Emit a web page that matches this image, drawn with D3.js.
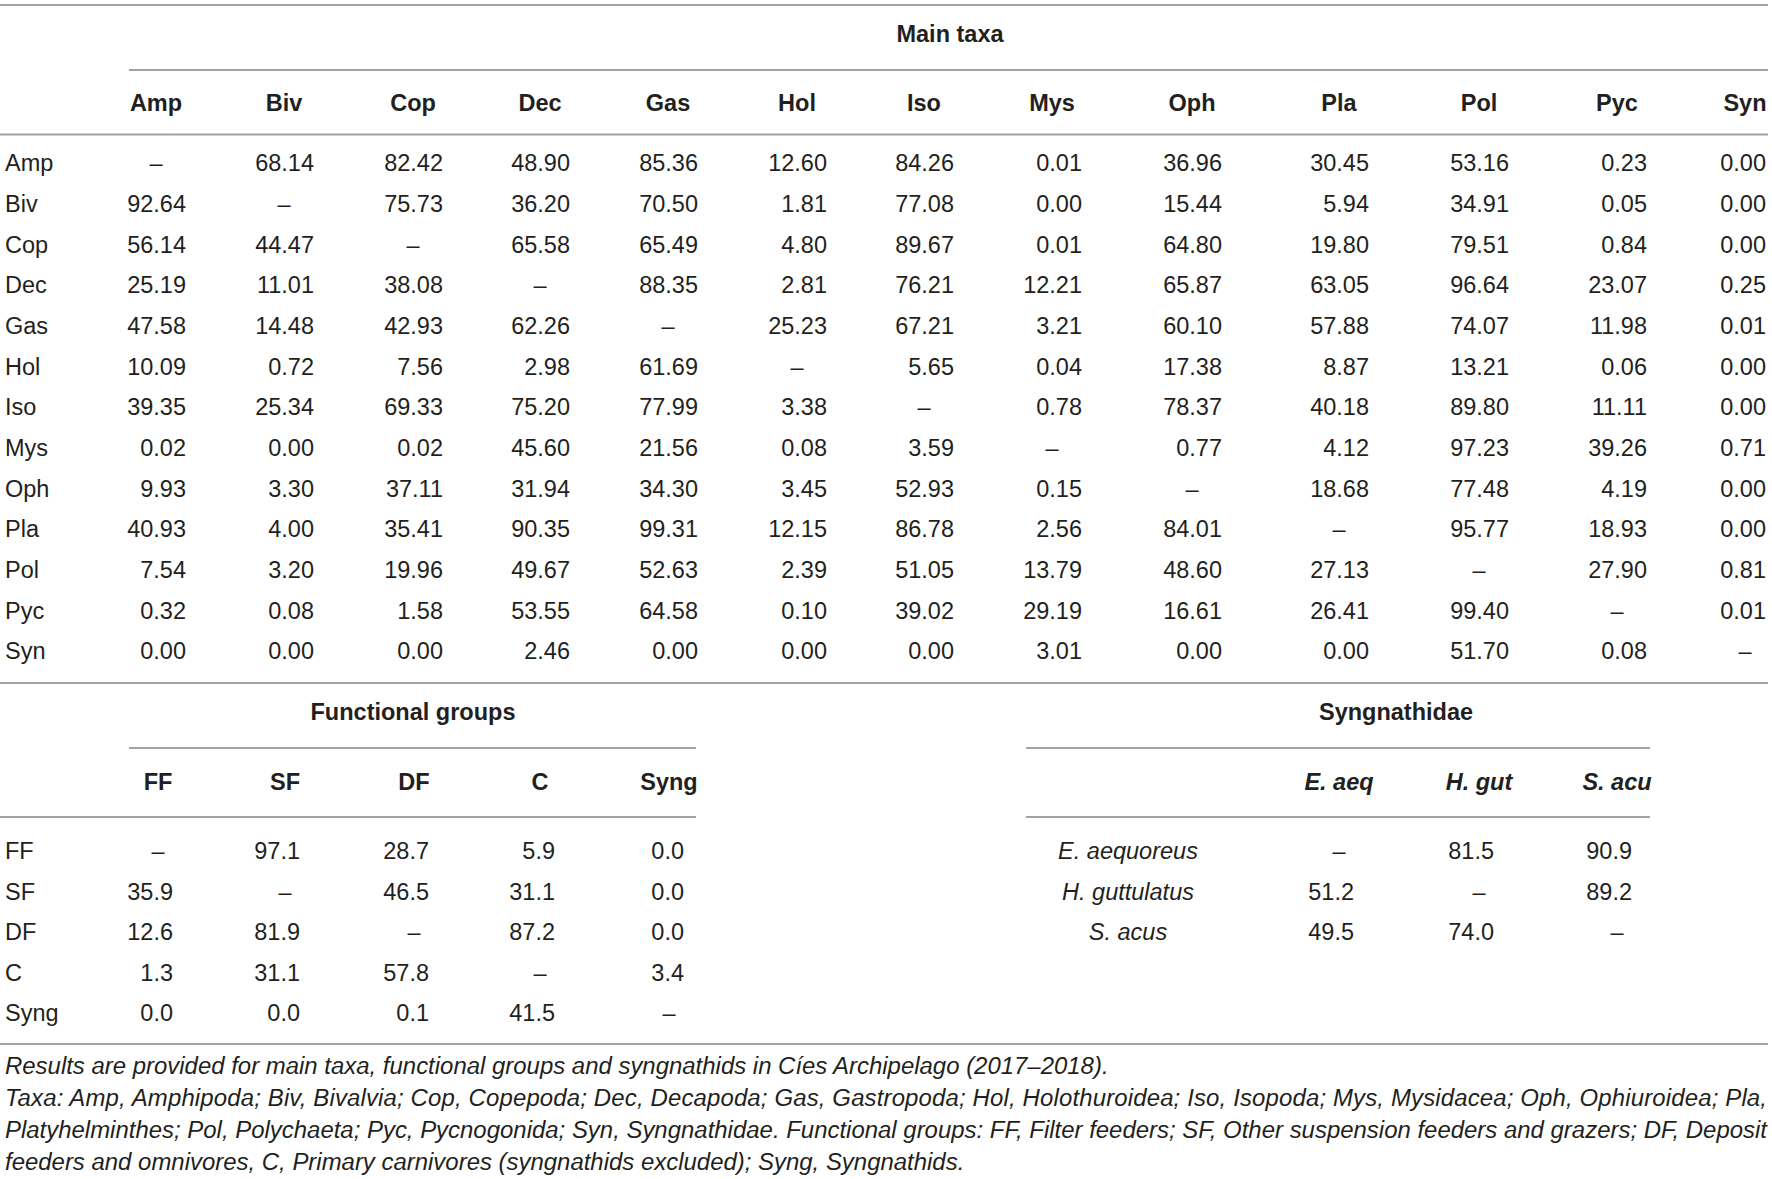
<!DOCTYPE html>
<html>
<head>
<meta charset="utf-8">
<script src="https://cdnjs.cloudflare.com/ajax/libs/d3/7.8.5/d3.min.js"></script>
<style>
  body { margin: 0; background: #fff; }
  svg { display: block; font-family: "Liberation Sans", Arial, Helvetica, sans-serif; }
</style>
</head>
<body>
<div id="table"></div>
<script>
// ---- data ----
const taxa = ["Amp", "Biv", "Cop", "Dec", "Gas", "Hol", "Iso", "Mys", "Oph", "Pla", "Pol", "Pyc", "Syn"];

const ampRow = [null, 68.14, 82.42, 48.90, 85.36, 12.60, 84.26, 0.01, 36.96, 30.45, 53.16, 0.23, 0.00];
const bivRow = [92.64, null, 75.73, 36.20, 70.50, 1.81, 77.08, 0.00, 15.44, 5.94, 34.91, 0.05, 0.00];
const copRow = [56.14, 44.47, null, 65.58, 65.49, 4.80, 89.67, 0.01, 64.80, 19.80, 79.51, 0.84, 0.00];
const decRow = [25.19, 11.01, 38.08, null, 88.35, 2.81, 76.21, 12.21, 65.87, 63.05, 96.64, 23.07, 0.25];
const gasRow = [47.58, 14.48, 42.93, 62.26, null, 25.23, 67.21, 3.21, 60.10, 57.88, 74.07, 11.98, 0.01];
const holRow = [10.09, 0.72, 7.56, 2.98, 61.69, null, 5.65, 0.04, 17.38, 8.87, 13.21, 0.06, 0.00];
const isoRow = [39.35, 25.34, 69.33, 75.20, 77.99, 3.38, null, 0.78, 78.37, 40.18, 89.80, 11.11, 0.00];
const mysRow = [0.02, 0.00, 0.02, 45.60, 21.56, 0.08, 3.59, null, 0.77, 4.12, 97.23, 39.26, 0.71];
const ophRow = [9.93, 3.30, 37.11, 31.94, 34.30, 3.45, 52.93, 0.15, null, 18.68, 77.48, 4.19, 0.00];
const plaRow = [40.93, 4.00, 35.41, 90.35, 99.31, 12.15, 86.78, 2.56, 84.01, null, 95.77, 18.93, 0.00];
const polRow = [7.54, 3.20, 19.96, 49.67, 52.63, 2.39, 51.05, 13.79, 48.60, 27.13, null, 27.90, 0.81];
const pycRow = [0.32, 0.08, 1.58, 53.55, 64.58, 0.10, 39.02, 29.19, 16.61, 26.41, 99.40, null, 0.01];
const synRow = [0.00, 0.00, 0.00, 2.46, 0.00, 0.00, 0.00, 3.01, 0.00, 0.00, 51.70, 0.08, null];
const taxaValues = [ampRow, bivRow, copRow, decRow, gasRow, holRow, isoRow, mysRow, ophRow, plaRow, polRow, pycRow, synRow];

const groups = ["FF", "SF", "DF", "C", "Syng"];
const groupValues = [
  [null, 97.1, 28.7, 5.9, 0.0],
  [35.9, null, 46.5, 31.1, 0.0],
  [12.6, 81.9, null, 87.2, 0.0],
  [1.3, 31.1, 57.8, null, 3.4],
  [0.0, 0.0, 0.1, 41.5, null]
];

const syngCols = ["E. aeq", "H. gut", "S. acu"];
const syngRows = ["E. aequoreus", "H. guttulatus", "S. acus"];
const syngValues = [
  [null, 81.5, 90.9],
  [51.2, null, 89.2],
  [49.5, 74.0, null]
];

const notes = [
  "Results are provided for main taxa, functional groups and syngnathids in Cíes Archipelago (2017–2018).",
  "Taxa: Amp, Amphipoda; Biv, Bivalvia; Cop, Copepoda; Dec, Decapoda; Gas, Gastropoda; Hol, Holothuroidea; Iso, Isopoda; Mys, Mysidacea; Oph, Ophiuroidea; Pla,",
  "Platyhelminthes; Pol, Polychaeta; Pyc, Pycnogonida; Syn, Syngnathidae. Functional groups: FF, Filter feeders; SF, Other suspension feeders and grazers; DF, Deposit",
  "feeders and omnivores, C, Primary carnivores (syngnathids excluded); Syng, Syngnathids."
];

// ---- layout ----
const W = 1772, H = 1179;
const fs = 23.5;
const ink = "#231f20";
const rule = "#a3a3a3";
const dash = "\u2013";

const svg = d3.select("#table")
  .append("svg")
    .attr("width", W)
    .attr("height", H);

// scales
const xMain = d3.scaleOrdinal()
  .domain(taxa)
  .range([156, 284, 413, 540, 668, 797, 924, 1052, 1192, 1339, 1479, 1617, 1745]);
const yMain = d3.scalePoint().domain(taxa).range([163, 651]);

const xGroup = d3.scaleOrdinal().domain(groups).range([158, 285, 414, 540, 669]);
const yGroup = d3.scalePoint().domain(groups).range([851, 1013]);

const xSyng = d3.scaleOrdinal().domain(syngCols).range([1339, 1479, 1617]);
const ySyng = d3.scalePoint().domain(syngRows).range([851, 932]);

function hline(y, x1, x2) {
  svg.append("line")
    .attr("x1", x1).attr("x2", x2)
    .attr("y1", y).attr("y2", y)
    .attr("stroke", rule)
    .attr("stroke-width", 2);
}

function label(x, y, txt, opts = {}) {
  return svg.append("text")
    .attr("x", x)
    .attr("y", y)
    .attr("dy", "0.35em")
    .attr("text-anchor", opts.anchor || "start")
    .attr("font-size", opts.size || fs)
    .attr("font-weight", opts.bold ? "bold" : "normal")
    .attr("font-style", opts.italic ? "italic" : "normal")
    .attr("fill", ink)
    .text(txt);
}

// draws one matrix of cells; numbers right aligned, dashes centred
function cells(rows, cols, values, xs, ys, rightOff, digits) {
  const flat = [];
  values.forEach((row, i) => row.forEach((v, j) => flat.push({r: rows[i], c: cols[j], v})));
  svg.append("g")
    .selectAll("text")
    .data(flat)
    .join("text")
      .attr("x", d => d.v === null ? xs(d.c) : xs(d.c) + rightOff(d.c))
      .attr("y", d => ys(d.r))
      .attr("dy", "0.35em")
      .attr("text-anchor", d => d.v === null ? "middle" : "end")
      .attr("font-size", fs)
      .attr("fill", ink)
      .text(d => d.v === null ? dash : d.v.toFixed(digits));
}

// ---- main taxa ----
hline(5, 0, 1768);
label(950, 34, "Main taxa", {anchor: "middle", bold: true});
hline(70, 129, 1768);
svg.append("g").selectAll("text")
  .data(taxa)
  .join("text")
    .attr("x", d => xMain(d))
    .attr("y", 103)
    .attr("dy", "0.35em")
    .attr("text-anchor", "middle")
    .attr("font-size", fs)
    .attr("font-weight", "bold")
    .attr("fill", ink)
    .text(d => d);
hline(134.5, 0, 1768);
taxa.forEach(t => label(5, yMain(t), t));
cells(taxa, taxa, taxaValues, xMain, yMain, c => c === "Syn" ? 21 : 30, 2);
hline(683, 0, 1768);

// ---- functional groups ----
label(413, 712, "Functional groups", {anchor: "middle", bold: true});
hline(748, 129, 696);
groups.forEach(g => label(xGroup(g), 782, g, {anchor: "middle", bold: true}));
hline(817, 0, 696);
groups.forEach(g => label(5, yGroup(g), g));
cells(groups, groups, groupValues, xGroup, yGroup, () => 15, 1);

// ---- syngnathidae ----
label(1396, 712, "Syngnathidae", {anchor: "middle", bold: true});
hline(748, 1026, 1650);
syngCols.forEach(c => label(xSyng(c), 782, c, {anchor: "middle", bold: true, italic: true}));
hline(817, 1026, 1650);
syngRows.forEach(r => label(1128, ySyng(r), r, {anchor: "middle", italic: true}));
cells(syngRows, syngCols, syngValues, xSyng, ySyng, () => 15, 1);

hline(1044, 0, 1768);

// ---- footnotes ----
const noteY = [1066, 1098, 1130, 1162];
const noteWidth = 1762;
const noteText = svg.append("g").selectAll("text")
  .data(notes)
  .join("text")
    .attr("x", 5)
    .attr("y", (d, i) => noteY[i])
    .attr("dy", "0.35em")
    .attr("font-size", 20)
    .attr("font-style", "italic")
    .attr("fill", ink)
    .text(d => d);
// size the notes so the longest wrapped line fits the table width,
// then justify the two full lines to that width
const longest = d3.max(noteText.nodes(), n => n.getComputedTextLength());
noteText.attr("font-size", 20 * noteWidth / longest);
noteText.filter((d, i) => i === 1 || i === 2)
  .attr("textLength", noteWidth)
  .attr("lengthAdjust", "spacing");
</script>
</body>
</html>
